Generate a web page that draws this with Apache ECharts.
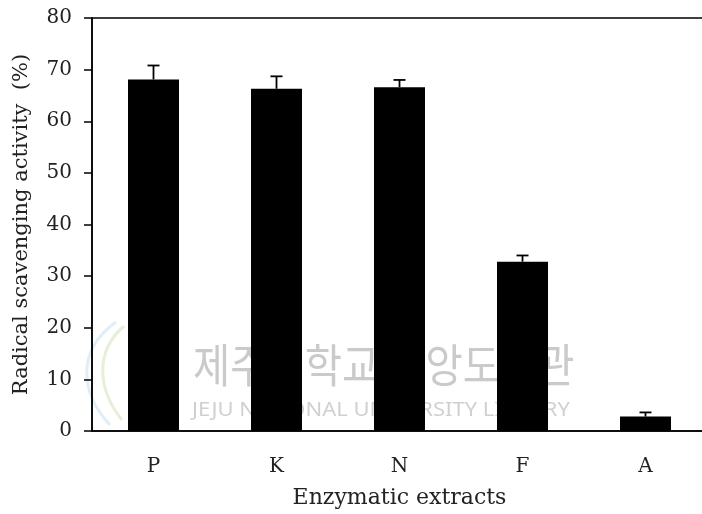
<!DOCTYPE html>
<html><head><meta charset="utf-8">
<script src="https://cdn.jsdelivr.net/npm/echarts@6/dist/echarts.min.js"></script>
<style>html,body{margin:0;padding:0;background:#fff}#c{width:702px;height:514px}</style>
</head><body><div id="c"></div>
<script>
const categories = ['P', 'K', 'N', 'F', 'A'];
const values = [68.1, 66.3, 66.6, 32.8, 2.8];
const errors = [2.7, 2.4, 1.4, 1.2, 0.8];
const yTicks = [0, 10, 20, 30, 40, 50, 60, 70, 80];

const FONT = '"DejaVu Serif", "Liberation Serif", serif';
const chart = echarts.init(document.getElementById('c'), null, {renderer: 'canvas'});
chart.setOption({
  animation: false,
  backgroundColor: '#fff',
  graphic: [
    {type: 'bezierCurve', z: -10, shape: {x1: 116, y1: 322, cpx1: 74, cpy1: 352, cpx2: 82, cpy2: 395, x2: 110, y2: 425},
      style: {stroke: '#e0eef7', lineWidth: 3, fill: null}},
    {type: 'bezierCurve', z: -10, shape: {x1: 124, y1: 326, cpx1: 94, cpy1: 352, cpx2: 98, cpy2: 390, x2: 122, y2: 420},
      style: {stroke: '#e6f0d8', lineWidth: 3, fill: null}},
    {type: 'text', z: -10, x: 193, y: 342, scaleX: 0.88,
      style: {text: '제주대학교 중앙도서관', fill: '#cacaca', font: '46px "Noto Sans CJK KR"'}},
    {type: 'text', z: -10, x: 192, y: 400, scaleX: 1.1,
      style: {text: 'JEJU NATIONAL UNIVERSITY LIBRARY', fill: '#d0d0d0', font: '20px "Noto Sans"'}}
  ],
  grid: {left: 92, top: 18, right: -5, bottom: 83, outerBoundsMode: 'none', show: true, borderColor: '#000', borderWidth: 1.5, backgroundColor: 'transparent'},
  xAxis: {
    type: 'category', data: categories,
    axisLine: {lineStyle: {color: '#000', width: 1.5}},
    axisTick: {length: 7, lineStyle: {color: '#000', width: 1.5}},
    axisLabel: {color: '#222', fontFamily: FONT, fontSize: 20, margin: 26},
    name: 'Enzymatic extracts', nameLocation: 'middle', nameGap: 56,
    nameTextStyle: {color: '#222', fontFamily: FONT, fontSize: 22}
  },
  yAxis: {
    type: 'value', min: 0, max: 80, interval: 10,
    splitLine: {show: false},
    axisLine: {show: true, lineStyle: {color: '#000', width: 1.5}},
    axisTick: {show: true, length: 8, lineStyle: {color: '#000', width: 1.5}},
    axisLabel: {color: '#222', fontFamily: FONT, fontSize: 20, margin: 20,
      formatter: v => yTicks.includes(v) ? String(v) : ''},
    name: 'Radical scavenging activity  (%)', nameLocation: 'middle', nameGap: 60,
    nameTextStyle: {color: '#222', fontFamily: FONT, fontSize: 21}
  },
  series: [
    {type: 'bar', data: values, barWidth: 51, itemStyle: {color: '#000'}, z: 2},
    {type: 'custom', z: 3,
      data: values.map((v, i) => [i, v, v + errors[i]]),
      renderItem: function (params, api) {
        const x = api.coord([api.value(0), api.value(1)])[0];
        const y0 = api.coord([api.value(0), api.value(1)])[1];
        const y1 = api.coord([api.value(0), api.value(2)])[1];
        const half = 6;
        const st = {stroke: '#000', lineWidth: 1.8};
        return {type: 'group', children: [
          {type: 'line', shape: {x1: x, y1: y0, x2: x, y2: y1}, style: st},
          {type: 'line', shape: {x1: x - half, y1: y1, x2: x + half, y2: y1}, style: st}
        ]};
      }
    }
  ]
});
</script></body></html>
